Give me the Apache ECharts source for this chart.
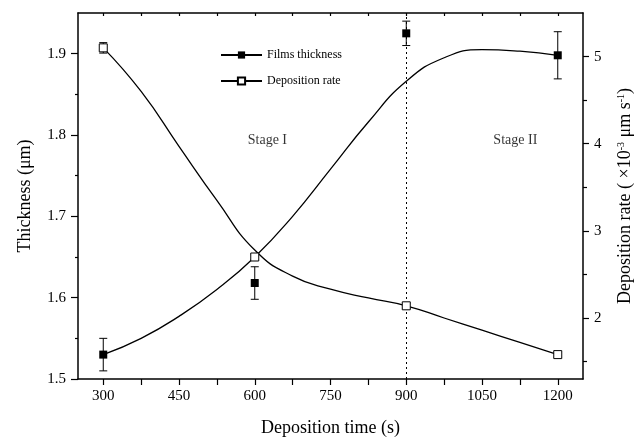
<!DOCTYPE html>
<html>
<head>
<meta charset="utf-8">
<script src="https://cdn.jsdelivr.net/npm/echarts@6/dist/echarts.min.js"></script>
<style>
  html, body { margin: 0; padding: 0; background: #fff; }
  #chart { width: 642px; height: 442px; }
</style>
</head>
<body>
<div id="chart"></div>
<script>
// Measured samples
const times = [300, 600, 900, 1200];
const thickness = [1.530, 1.618, 1.925, 1.898];
const thicknessErr = [0.020, 0.020, 0.015, 0.029];
const rate = [5.10, 2.70, 2.14, 1.58];
const rateErr = [0.06, 0.03, 0.03, 0.03];

// Fitted trend curves
const curveTimes = [300, 375, 450, 525, 600, 675, 750, 825, 900, 975, 1050, 1125, 1200];
const thicknessCurve = [1.530, 1.550, 1.577, 1.610, 1.650, 1.700, 1.758, 1.816, 1.866, 1.895, 1.905, 1.903, 1.898];
const rateCurve = [5.10, 4.60, 3.97, 3.35, 2.78, 2.48, 2.33, 2.23, 2.14, 2.00, 1.86, 1.72, 1.58];

// Axis ticks
const xMajorTicks = [300, 450, 600, 750, 900, 1050, 1200];
const xAllTicks = [300, 375, 450, 525, 600, 675, 750, 825, 900, 975, 1050, 1125, 1200];
const leftMajorTicks = [1.5, 1.6, 1.7, 1.8, 1.9];
const leftMinorTicks = [1.55, 1.65, 1.75, 1.85];
const rightMajorTicks = [2, 3, 4, 5];
const rightMinorTicks = [1.5, 2.5, 3.5, 4.5];

const stageNames = ['Stage I', 'Stage II'];

const FONT = 'Liberation Serif, Times New Roman, serif';
const BLACK = '#000';

function errorBars(yAxisIndex, vals, errs) {
  return {
    type: 'custom',
    xAxisIndex: 0,
    yAxisIndex: yAxisIndex,
    silent: true,
    z: 3,
    encode: { x: 0, y: [1, 2] },
    data: times.map((t, i) => [t, vals[i] - errs[i], vals[i] + errs[i]]),
    renderItem: function (params, api) {
      const x = api.value(0);
      const lo = api.coord([x, api.value(1)]);
      const hi = api.coord([x, api.value(2)]);
      const hw = 4;
      const style = { stroke: BLACK, lineWidth: 1, fill: null };
      return {
        type: 'group',
        children: [
          { type: 'line', shape: { x1: lo[0], y1: lo[1], x2: hi[0], y2: hi[1] }, style: style },
          { type: 'line', shape: { x1: lo[0] - hw, y1: lo[1], x2: lo[0] + hw, y2: lo[1] }, style: style },
          { type: 'line', shape: { x1: hi[0] - hw, y1: hi[1], x2: hi[0] + hw, y2: hi[1] }, style: style }
        ]
      };
    }
  };
}

const axisLine = { show: true, lineStyle: { color: BLACK, width: 1.5 } };
const noSplit = { show: false };

const option = {
  animation: false,
  backgroundColor: '#fff',
  grid: { left: 78, right: 58, top: 13, bottom: 58 },
  legend: {
    orient: 'vertical',
    left: 215,
    top: 43,
    itemWidth: 41,
    itemHeight: 9,
    itemGap: 12,
    data: ['Films thickness', 'Deposition rate'],
    textStyle: { fontFamily: FONT, fontSize: 12, color: BLACK, lineHeight: 14 }
  },
  xAxis: [
    {
      type: 'value', position: 'bottom', min: 250, max: 1250,
      name: 'Deposition time (s)', nameLocation: 'middle', nameGap: 40,
      nameTextStyle: { fontFamily: FONT, fontSize: 18, color: BLACK },
      axisLine: axisLine,
      axisTick: { show: true, inside: false, length: 6, customValues: xAllTicks, lineStyle: { color: BLACK, width: 1.2 } },
      axisLabel: { show: true, margin: 10, customValues: xMajorTicks, fontFamily: FONT, fontSize: 15, color: BLACK,
        formatter: v => String(v) },
      splitLine: noSplit
    },
    {
      type: 'value', position: 'top', min: 250, max: 1250,
      axisLine: axisLine,
      axisTick: { show: true, inside: true, length: 3, customValues: xAllTicks, lineStyle: { color: BLACK, width: 1.2 } },
      axisLabel: { show: false },
      splitLine: noSplit
    }
  ],
  yAxis: [
    {
      type: 'value', position: 'left', min: 1.5, max: 1.95,
      name: 'Thickness (\u03bcm)', nameLocation: 'middle', nameGap: 44,
      nameTextStyle: { fontFamily: FONT, fontSize: 18, color: BLACK },
      axisLine: axisLine,
      axisTick: { show: true, inside: false, length: 7, customValues: leftMajorTicks, lineStyle: { color: BLACK, width: 1.2 } },
      axisLabel: { show: true, margin: 12, customValues: leftMajorTicks, fontFamily: FONT, fontSize: 15, color: BLACK,
        formatter: v => v.toFixed(1) },
      splitLine: noSplit
    },
    {
      type: 'value', position: 'right', min: 1.3, max: 5.5,
      name: '{a|Deposition rate ( \u00d710}{s|-3}{a| \u03bcm s}{s|-1}{a|)}',
      nameLocation: 'middle', nameGap: 33,
      nameTextStyle: {
        fontFamily: FONT, fontSize: 18, color: BLACK,
        rich: {
          a: { fontFamily: FONT, fontSize: 18, color: BLACK },
          s: { fontFamily: FONT, fontSize: 10, color: BLACK, verticalAlign: 'top' }
        }
      },
      axisLine: axisLine,
      axisTick: { show: true, inside: false, length: 6, customValues: rightMajorTicks, lineStyle: { color: BLACK, width: 1.2 } },
      axisLabel: { show: true, margin: 11, customValues: rightMajorTicks, fontFamily: FONT, fontSize: 15, color: BLACK },
      splitLine: noSplit
    },
    {
      type: 'value', position: 'left', min: 1.5, max: 1.95,
      axisLine: { show: false },
      axisTick: { show: true, inside: false, length: 3, customValues: leftMinorTicks, lineStyle: { color: BLACK, width: 1.2 } },
      axisLabel: { show: false },
      splitLine: noSplit
    },
    {
      type: 'value', position: 'right', min: 1.3, max: 5.5,
      axisLine: { show: false },
      axisTick: { show: true, inside: false, length: 4, customValues: rightMinorTicks, lineStyle: { color: BLACK, width: 1.2 } },
      axisLabel: { show: false },
      splitLine: noSplit
    }
  ],
  series: [
    {
      name: 'Films thickness',
      type: 'line', xAxisIndex: 0, yAxisIndex: 0,
      smooth: 0.5, showSymbol: false, symbol: 'rect', symbolSize: 8,
      itemStyle: { color: BLACK },
      lineStyle: { color: BLACK, width: 1.3 },
      data: curveTimes.map((t, i) => [t, thicknessCurve[i]]),
      markLine: {
        silent: true, symbol: ['none', 'none'],
        label: { show: false },
        lineStyle: { color: BLACK, width: 1, type: [2, 3] },
        data: [{ xAxis: times[2] }]
      },
      z: 2
    },
    {
      name: 'Deposition rate',
      type: 'line', xAxisIndex: 0, yAxisIndex: 1,
      smooth: 0.5, showSymbol: false, symbol: 'rect', symbolSize: 8,
      itemStyle: { color: '#fff', borderColor: BLACK, borderWidth: 1 },
      lineStyle: { color: BLACK, width: 1.3 },
      data: curveTimes.map((t, i) => [t, rateCurve[i]]),
      z: 2
    },
    errorBars(0, thickness, thicknessErr),
    errorBars(1, rate, rateErr),
    {
      name: 'thickness samples',
      type: 'scatter', xAxisIndex: 0, yAxisIndex: 0,
      symbol: 'rect', symbolSize: 8,
      itemStyle: { color: BLACK, opacity: 1 },
      data: times.map((t, i) => [t, thickness[i]]),
      z: 5
    },
    {
      name: 'rate samples',
      type: 'scatter', xAxisIndex: 0, yAxisIndex: 1,
      symbol: 'rect', symbolSize: 8,
      itemStyle: { color: '#fff', borderColor: BLACK, borderWidth: 1, opacity: 1 },
      data: times.map((t, i) => [t, rate[i]]),
      z: 5
    },
    {
      name: 'stages',
      type: 'scatter', xAxisIndex: 0, yAxisIndex: 0,
      symbolSize: 0, silent: true,
      label: {
        show: true, position: 'inside',
        fontFamily: FONT, fontSize: 14, color: BLACK,
        formatter: p => p.value[2]
      },
      data: [[625, 1.793, stageNames[0]], [1116, 1.793, stageNames[1]]],
      z: 4
    }
  ]
};

const chart = echarts.init(document.getElementById('chart'), null, { renderer: 'canvas' });
chart.setOption(option);
</script>
</body>
</html>
